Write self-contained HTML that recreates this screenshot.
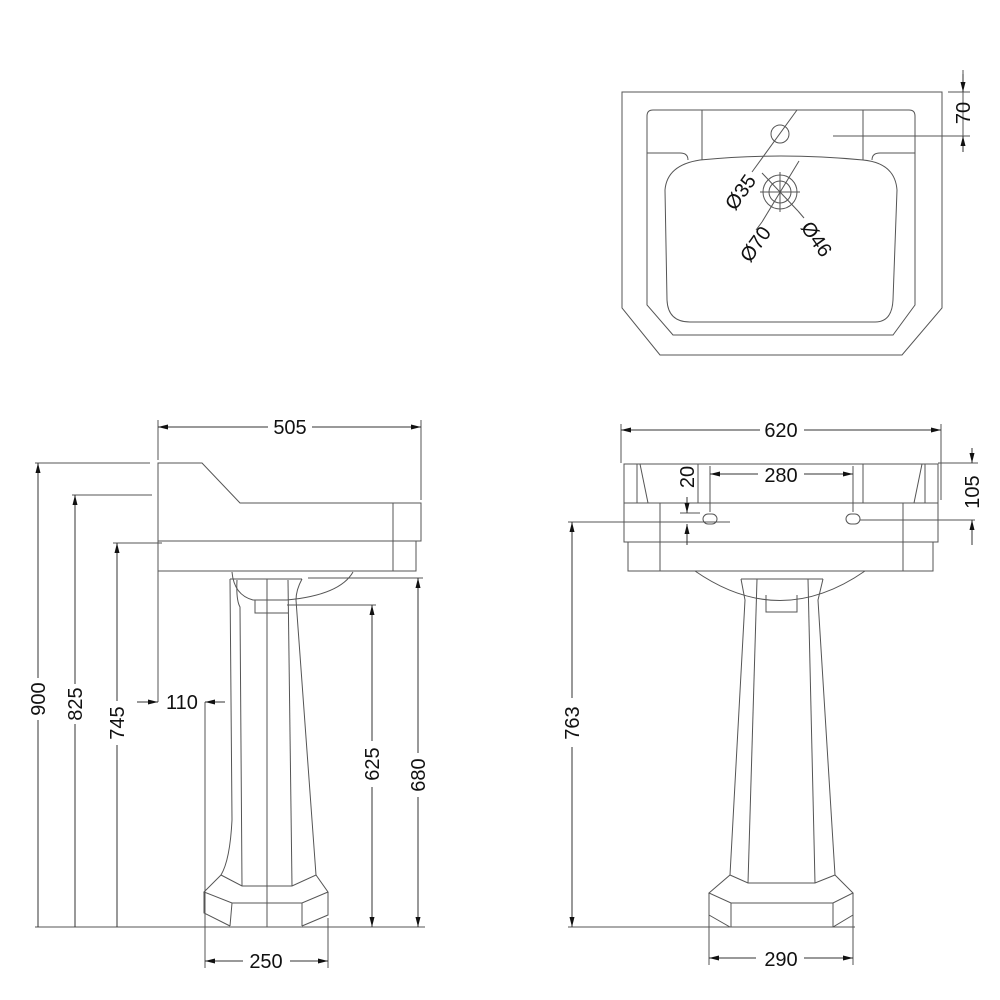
<!DOCTYPE html>
<html><head><meta charset="utf-8"><style>html,body{margin:0;padding:0;background:#fff}svg{display:block}</style></head>
<body>
<svg width="1000" height="1000" viewBox="0 0 1000 1000" xmlns="http://www.w3.org/2000/svg">
<defs>
<marker id="a" viewBox="0 0 10 6" refX="10" refY="3" markerWidth="10" markerHeight="6" orient="auto-start-reverse" markerUnits="userSpaceOnUse"><path d="M0,0.5 L10,3 L0,5.5z" fill="#111"/></marker>
</defs>
<g fill="none" stroke="#555" stroke-width="1">
<!-- PLAN VIEW -->
<path d="M622,92 H942 V308 L902,355 H660 L622,308 Z"/>
<path d="M647,116 Q647,110 653,110 H909 Q915,110 915,116 V305 L893,335 H673 L647,305 Z"/>
<path d="M647,153 H680 Q688,153 688,160"/>
<path d="M915,153 H880 Q872,153 872,160"/>
<line x1="702" y1="110" x2="702" y2="160"/><line x1="863" y1="110" x2="863" y2="160"/>
<path d="M700,160 Q780,152 863,160 Q895,163 897,190 L893,300 Q892,322 875,322 H690 Q668,322 667,300 L665,190 Q667,165 700,160 Z"/>
<circle cx="780" cy="134" r="9"/>
<circle cx="780" cy="192" r="17"/><circle cx="780" cy="192" r="11"/>
<line x1="760" y1="192" x2="800" y2="192"/><line x1="780" y1="172" x2="780" y2="212"/>
<line x1="797" y1="110" x2="752" y2="172"/>
<line x1="762" y1="173" x2="798" y2="211"/>
<line x1="799" y1="161" x2="762" y2="222"/>
<line x1="762" y1="222" x2="756" y2="230"/>
<line x1="798" y1="211" x2="804" y2="218"/>
<line x1="963" y1="70" x2="963" y2="150"/>
<line x1="948" y1="92" x2="970" y2="92"/>
<line x1="833" y1="136" x2="970" y2="136"/>

<!-- SIDE VIEW -->
<path d="M158,463 H202 L240,503 H421 V541 H416 V571 H158 Z"/>
<line x1="393" y1="503" x2="393" y2="571"/>
<line x1="158" y1="541" x2="416" y2="541"/>
<line x1="158" y1="571" x2="158" y2="702"/>
<path d="M232,572 Q234,595 253,600 H287 Q340,595 353,572"/>
<path d="M230,579 H302"/>
<path d="M255,600 V613 H288"/>
<line x1="267" y1="579" x2="267" y2="927"/>
<path d="M230,579 L232,820 Q230,860 221,875"/>
<path d="M237,580 Q236,600 240,607 L242,886"/>
<path d="M288,580 L292,886"/>
<path d="M302,579 Q296,590 296,600 L316,875"/>
<path d="M221,875 L242,886 H292 L316,875 L328,892 L302,903 H232 L204,892 Z"/>
<path d="M204,892 V913 L230,926 M232,903 L230,926 M302,903 V926 M328,892 V915 L302,926"/>
<line x1="35" y1="927" x2="425" y2="927"/>
<line x1="158" y1="420" x2="158" y2="460"/><line x1="421" y1="420" x2="421" y2="500"/>
<line x1="35" y1="463" x2="150" y2="463"/>
<line x1="72" y1="495" x2="152" y2="495"/>
<line x1="113" y1="543" x2="162" y2="543"/>
<line x1="308" y1="578" x2="423" y2="578"/>
<line x1="287" y1="605" x2="376" y2="605"/>
<line x1="205" y1="702" x2="205" y2="968"/>
<line x1="328" y1="918" x2="328" y2="968"/>

<!-- FRONT VIEW -->
<path d="M624,464 H938 V542 H624 Z"/>
<line x1="624" y1="503" x2="938" y2="503"/>
<path d="M628,542 V571 H933 V542"/>
<line x1="660" y1="503" x2="660" y2="571"/><line x1="903" y1="503" x2="903" y2="571"/>
<line x1="637" y1="464" x2="637" y2="503"/><line x1="640" y1="464" x2="648" y2="503"/>
<line x1="698" y1="464" x2="698" y2="503"/><line x1="863" y1="464" x2="863" y2="503"/>
<line x1="925" y1="464" x2="925" y2="503"/><line x1="922" y1="464" x2="914" y2="503"/>
<path d="M695,571 Q780,630 865,571"/>
<path d="M741,579 H823"/>
<path d="M741,579 L745,600 L730,875"/>
<path d="M823,579 L818,600 L835,875"/>
<path d="M757,579 L748,883"/><path d="M808,579 L815,883"/>
<path d="M766,595 V612 H797 V595"/>
<path d="M730,875 L748,883 H815 L835,875 L853,893 L833,903 H731 L709,893 Z"/>
<path d="M709,893 V915 L730,927 H833 L853,915 V893 M731,903 V927 M833,903 V927"/>
<rect x="703" y="514" width="14" height="10" rx="5"/>
<rect x="846" y="514" width="14" height="10" rx="5"/>
<line x1="860" y1="520" x2="975" y2="520"/>
<line x1="568" y1="522" x2="730" y2="522"/>
<line x1="568" y1="927" x2="855" y2="927"/>
<line x1="621" y1="424" x2="621" y2="463"/><line x1="941" y1="424" x2="941" y2="500"/>
<line x1="710" y1="466" x2="710" y2="512"/><line x1="853" y1="466" x2="853" y2="512"/>
<line x1="680" y1="513" x2="700" y2="513"/>
<line x1="938" y1="463" x2="978" y2="463"/>
<line x1="709" y1="915" x2="709" y2="965"/><line x1="853" y1="915" x2="853" y2="965"/>
</g>

<g stroke="#333" stroke-width="1" fill="none">
<line x1="158" y1="427" x2="268" y2="427" marker-start="url(#a)"/>
<line x1="312" y1="427" x2="421" y2="427" marker-end="url(#a)"/>
<line x1="38" y1="678" x2="38" y2="463" marker-end="url(#a)"/>
<line x1="38" y1="720" x2="38" y2="927"/>
<line x1="75" y1="684" x2="75" y2="495" marker-end="url(#a)"/>
<line x1="75" y1="724" x2="75" y2="927"/>
<line x1="117" y1="701" x2="117" y2="543" marker-end="url(#a)"/>
<line x1="117" y1="745" x2="117" y2="927"/>
<line x1="418" y1="753" x2="418" y2="578" marker-end="url(#a)"/>
<line x1="418" y1="797" x2="418" y2="927" marker-end="url(#a)"/>
<line x1="372" y1="741" x2="372" y2="605" marker-end="url(#a)"/>
<line x1="372" y1="787" x2="372" y2="927" marker-end="url(#a)"/>
<line x1="137" y1="702" x2="158" y2="702" marker-end="url(#a)"/>
<line x1="225" y1="702" x2="205" y2="702" marker-end="url(#a)"/>
<line x1="205" y1="961" x2="243" y2="961" marker-start="url(#a)"/>
<line x1="290" y1="961" x2="328" y2="961" marker-end="url(#a)"/>
<line x1="621" y1="430" x2="760" y2="430" marker-start="url(#a)"/>
<line x1="804" y1="430" x2="941" y2="430" marker-end="url(#a)"/>
<line x1="710" y1="474" x2="758" y2="474" marker-start="url(#a)"/>
<line x1="804" y1="474" x2="853" y2="474" marker-end="url(#a)"/>
<line x1="687" y1="497" x2="687" y2="513" marker-end="url(#a)"/>
<line x1="687" y1="545" x2="687" y2="524" marker-end="url(#a)"/>
<line x1="572" y1="698" x2="572" y2="522" marker-end="url(#a)"/>
<line x1="572" y1="747" x2="572" y2="927" marker-end="url(#a)"/>
<line x1="709" y1="958" x2="756" y2="958" marker-start="url(#a)"/>
<line x1="804" y1="958" x2="853" y2="958" marker-end="url(#a)"/>
<line x1="972" y1="448" x2="972" y2="463" marker-end="url(#a)"/>
<line x1="972" y1="545" x2="972" y2="520" marker-end="url(#a)"/>
<line x1="963" y1="74" x2="963" y2="92" marker-end="url(#a)"/>
<line x1="963" y1="152" x2="963" y2="136" marker-end="url(#a)"/>
</g>

<g font-family="Liberation Sans, Arial, sans-serif" font-size="20" fill="#111" text-anchor="middle">
<text x="290" y="434">505</text>
<text x="781" y="437">620</text>
<text x="781" y="482">280</text>
<text x="781" y="966">290</text>
<text x="266" y="968">250</text>
<text x="182" y="709">110</text>
<text transform="translate(45,699) rotate(-90)">900</text>
<text transform="translate(82,704) rotate(-90)">825</text>
<text transform="translate(124,723) rotate(-90)">745</text>
<text transform="translate(379,764) rotate(-90)">625</text>
<text transform="translate(425,775) rotate(-90)">680</text>
<text transform="translate(579,723) rotate(-90)">763</text>
<text transform="translate(694,477) rotate(-90)">20</text>
<text transform="translate(979,492) rotate(-90)">105</text>
<text transform="translate(970,113) rotate(-90)">70</text>
<text transform="translate(746,196) rotate(-55)">Ø35</text>
<text transform="translate(761,248) rotate(-55)">Ø70</text>
<text transform="translate(811,243) rotate(55)">Ø46</text>
</g>
</svg>
</body></html>
